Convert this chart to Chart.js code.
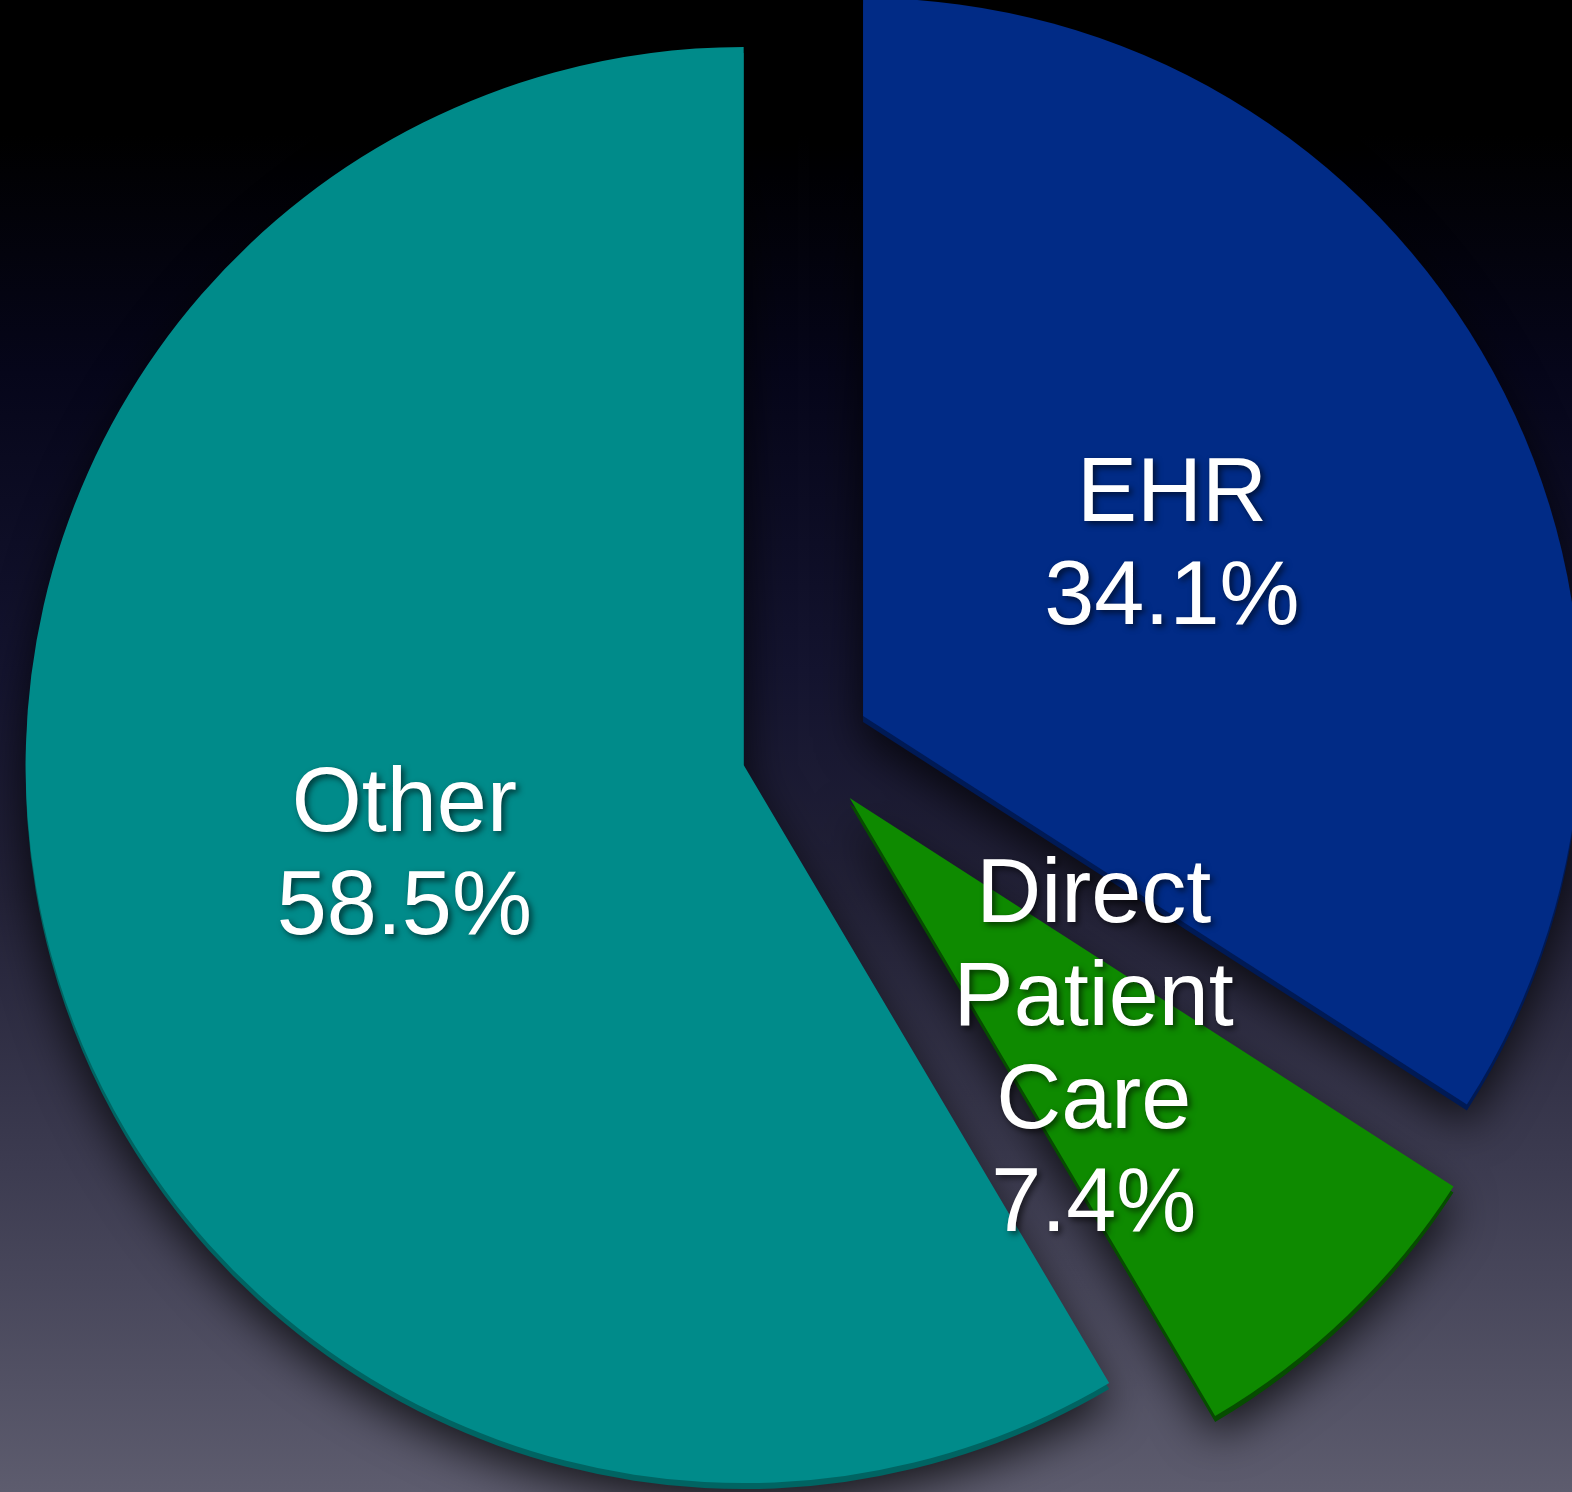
<!DOCTYPE html>
<html>
<head>
<meta charset="utf-8">
<script src="https://cdn.jsdelivr.net/npm/chart.js@4/dist/chart.umd.min.js"></script>
<style>
  html, body { margin: 0; padding: 0; }
  body {
    width: 1572px; height: 1492px; overflow: hidden;
    background: linear-gradient(to bottom, #000000 0%, #000000 9%, #06061a 25%, #14142f 45%, #232238 60%, #3c3b50 78%, #5d5c6e 100%);
  }
  #wrap { position: relative; width: 1572px; height: 1492px; }
</style>
</head>
<body>
<div id="wrap"><canvas id="pieChart"></canvas></div>
<script>
const categories = ['EHR', 'Direct Patient Care', 'Other'];
const shares = [34.1, 7.4, 58.5];
const sliceColors = ['#012b86', '#0e8a00', '#008b8a'];
const edgeColors = ['#001a55', '#064d00', '#006462'];
const explode = [69, 68, 61]; // px each slice is pulled out from the centre

// pull every slice out along its middle angle
const explodePlugin = {
    id: 'explode',
    afterDatasetUpdate(chart, args) {
        args.meta.data.forEach((arc, i) => {
            const mid = (arc.startAngle + arc.endAngle) / 2;
            arc.x += Math.cos(mid) * explode[i];
            arc.y += Math.sin(mid) * explode[i];
        });
    }
};

// darker copy shifted down gives the slices a little depth, with a soft shadow under it
const depthPlugin = {
    id: 'depth',
    beforeDatasetsDraw(chart) {
        const ctx = chart.ctx;
        const arcs = chart.getDatasetMeta(0).data;
        ctx.save();
        ctx.shadowColor = 'rgba(0, 0, 0, 0.75)';
        ctx.shadowBlur = 45;
        ctx.shadowOffsetY = 14;
        ctx.translate(0, 6);
        arcs.forEach((arc, i) => {
            const copy = Object.create(arc);
            copy.options = Object.assign({}, arc.options, { backgroundColor: edgeColors[i], borderWidth: 0 });
            arc.draw.call(copy, ctx);
        });
        ctx.restore();
    }
};

const labelPlugin = {
    id: 'sliceLabels',
    afterDatasetsDraw(chart) {
        const ctx = chart.ctx;
        const arcs = chart.getDatasetMeta(0).data;
        ctx.save();
        ctx.font = '90px "Liberation Sans", Arial, sans-serif';
        ctx.fillStyle = '#ffffff';
        ctx.textAlign = 'center';
        ctx.textBaseline = 'middle';
        ctx.shadowColor = 'rgba(0, 0, 0, 0.6)';
        ctx.shadowBlur = 6;
        ctx.shadowOffsetX = 3;
        ctx.shadowOffsetY = 3;
        arcs.forEach((arc, i) => {
            const mid = (arc.startAngle + arc.endAngle) / 2;
            const d = arc.outerRadius * 0.49;
            const cx = arc.x + Math.cos(mid) * d;
            const cy = arc.y + Math.sin(mid) * d;
            const lines = categories[i].split(' ').concat([shares[i].toFixed(1) + '%']);
            const lh = 103;
            lines.forEach((t, j) => {
                ctx.fillText(t, cx, cy + (j - (lines.length - 1) / 2) * lh);
            });
        });
        ctx.restore();
    }
};

new Chart(document.getElementById('pieChart'), {
    type: 'pie',
    data: {
        labels: categories,
        datasets: [{
            data: shares,
            backgroundColor: sliceColors,
            borderWidth: 0,
            hoverOffset: 0,
            clip: false
        }]
    },
    options: {
        responsive: true,
        maintainAspectRatio: false,
        animation: false,
        radius: 718,
        layout: { padding: { left: 33, right: 0, top: 10, bottom: 4 } },
        plugins: {
            legend: { display: false },
            tooltip: { enabled: false }
        },
        events: []
    },
    plugins: [explodePlugin, depthPlugin, labelPlugin]
});
</script>
</body>
</html>
